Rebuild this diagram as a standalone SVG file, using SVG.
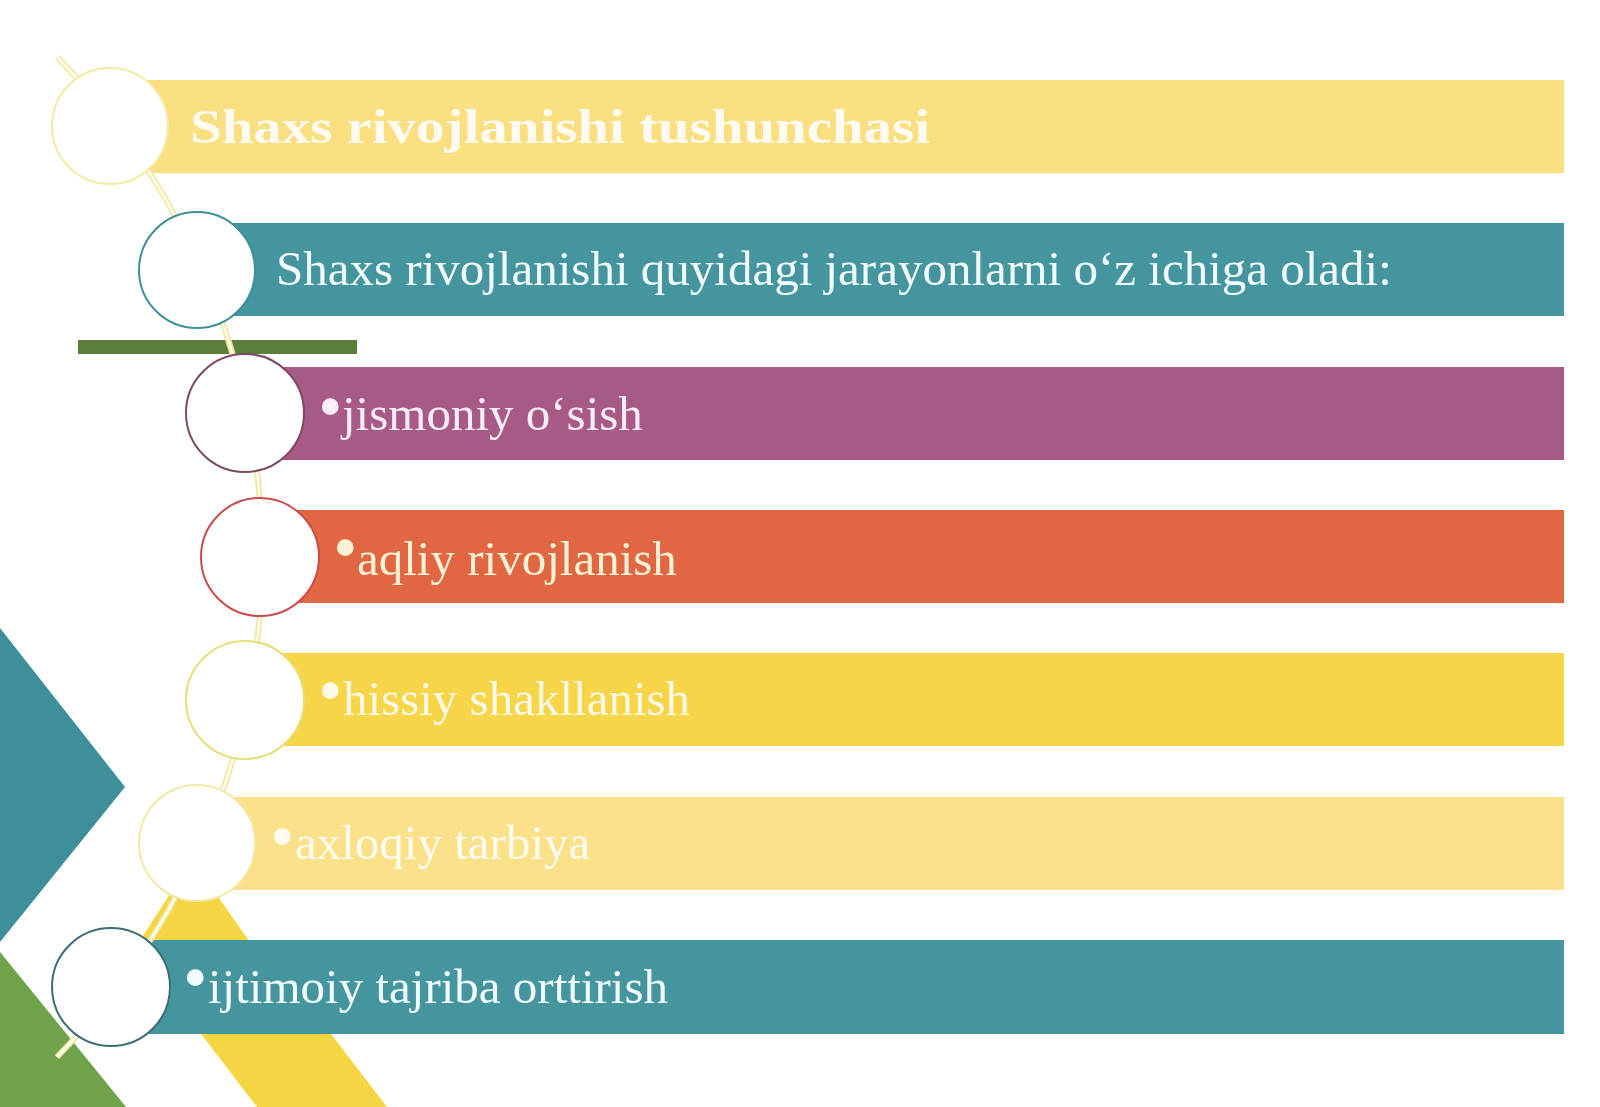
<svg xmlns="http://www.w3.org/2000/svg" width="1600" height="1107" viewBox="0 0 1600 1107">
  <style>
    .t { font-family: "Liberation Serif", "Times New Roman", serif; font-size: 49px; }
    .b { font-size: 70px; }
    .ring { fill: #ffffff; stroke-width: 2; }
  </style>
  <rect x="0" y="0" width="1600" height="1107" fill="#ffffff"/>
  <g id="background">
    <polygon points="0,628 125,787 0,942" fill="#3f8f9a"/>
    <polygon points="0,952 126,1107 0,1107" fill="#70a24a"/>
    <polygon points="192,860 252,945 137,945" fill="#f6d542"/>
    <polygon points="198,1030 328,1030 387,1107 257,1107" fill="#f6d542"/>
    <rect x="78" y="340" width="279" height="14" fill="#5b7e3b"/>
  </g>
  <g id="bars">
    <rect x="110" y="80" width="1454" height="93" fill="#f9df80"/>
    <rect x="197" y="223" width="1367" height="93" fill="#45959f"/>
    <rect x="245" y="367" width="1319" height="93" fill="#a65a85"/>
    <rect x="260" y="510" width="1304" height="93" fill="#e06741"/>
    <rect x="245" y="653" width="1319" height="93" fill="#f6d548"/>
    <rect x="197" y="797" width="1367" height="93" fill="#f9e089"/>
    <rect x="110" y="940" width="1454" height="94" fill="#45959f"/>
  </g>
  <g id="connectors">
    <path d="M 57 57 A 712 712 0 0 1 57 1057" fill="none" stroke="#f1e7a4" stroke-width="6"/>
    <path d="M 57 57 A 712 712 0 0 1 57 1057" fill="none" stroke="#fefcee" stroke-width="2.5"/>
  </g>
  <g id="node1">
    <circle class="ring" cx="110" cy="126" r="58" stroke="#f4eaa2"/>
    <text class="t" x="190" y="143" font-size="55" font-weight="bold" fill="#fffbf2" textLength="740" lengthAdjust="spacingAndGlyphs">Shaxs rivojlanishi tushunchasi</text>
  </g>
  <g id="node2">
    <circle class="ring" cx="197" cy="270" r="58" stroke="#3d8f98"/>
    <text class="t" x="276" y="285" fill="#f2fbff">Shaxs rivojlanishi quyidagi jarayonlarni o‘z ichiga oladi:</text>
  </g>
  <g id="node3">
    <circle class="ring" cx="245" cy="413" r="59" stroke="#7d4a64"/>
    <text class="t" y="430" fill="#fbeef8"><tspan class="b" x="318">•</tspan><tspan x="342">jismoniy o‘sish</tspan></text>
  </g>
  <g id="node4">
    <circle class="ring" cx="260" cy="557" r="59" stroke="#cc4a4a"/>
    <text class="t" y="575" fill="#fdf1d6"><tspan class="b" x="333" dy="-4">•</tspan><tspan x="357" dy="4">aqliy rivojlanish</tspan></text>
  </g>
  <g id="node5">
    <circle class="ring" cx="245" cy="700" r="59" stroke="#e6de78"/>
    <text class="t" y="715" fill="#fdf8e8"><tspan class="b" x="318" dy="-1">•</tspan><tspan x="343" dy="1">hissiy shakllanish</tspan></text>
  </g>
  <g id="node6">
    <circle class="ring" cx="197" cy="843" r="58" stroke="#f3e8a6"/>
    <text class="t" y="859" fill="#fffbee"><tspan class="b" x="270" dy="1">•</tspan><tspan x="295" dy="-1">axloqiy tarbiya</tspan></text>
  </g>
  <g id="node7">
    <circle class="ring" cx="111" cy="987" r="59" stroke="#3c6f74"/>
    <text class="t" y="1003" fill="#f2fbff"><tspan class="b" x="183" dy="-2">•</tspan><tspan x="208" dy="2">ijtimoiy tajriba orttirish</tspan></text>
  </g>
</svg>
